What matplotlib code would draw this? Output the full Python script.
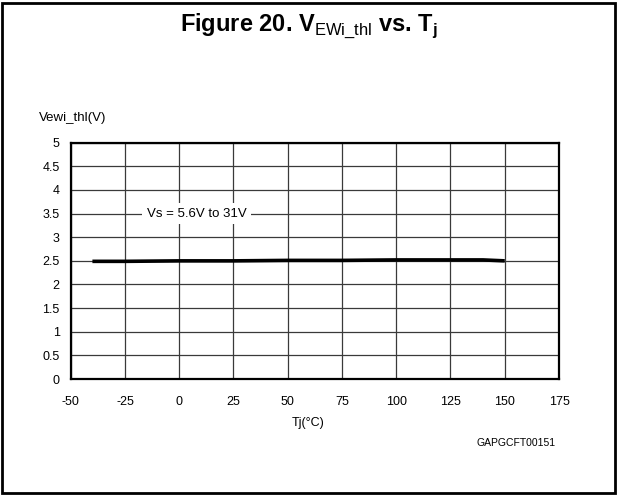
import matplotlib.pyplot as plt
from matplotlib.patches import Rectangle

plt.rcParams['font.family'] = ['Liberation Sans', 'DejaVu Sans']
plt.rcParams['mathtext.fontset'] = 'custom'
plt.rcParams['mathtext.rm'] = 'Liberation Sans'
plt.rcParams['mathtext.bf'] = 'Liberation Sans:bold'
plt.rcParams['axes.unicode_minus'] = False

# curve
tj = [-40, -25, 0, 25, 50, 75, 100, 125, 140, 150]
vewi_thl = [2.49, 2.49, 2.50, 2.50, 2.51, 2.51, 2.52, 2.52, 2.52, 2.50]

x_ticks = [-50, -25, 0, 25, 50, 75, 100, 125, 150, 175]
y_ticks = [0, 0.5, 1, 1.5, 2, 2.5, 3, 3.5, 4, 4.5, 5]
y_ticklabels = ['0', '0.5', '1', '1.5', '2', '2.5', '3', '3.5', '4', '4.5', '5']

fig = plt.figure(figsize=(6.17, 4.95), dpi=100)

# outer frame round the whole figure
fig.patches.append(Rectangle((0.004, 0.004), 0.992, 0.99, transform=fig.transFigure,
                             fill=False, lw=2.0, ec='black'))

title = r'Figure 20. V$_{\mathrm{EWi\_thl}}$ vs. T$_{\mathbf{j}}$'
fig.text(0.5, 0.948, title, ha='center', va='center', fontsize=17, fontweight='bold')

ax = fig.add_axes([0.1146, 0.2343, 0.7914, 0.4774])
ax.plot(tj, vewi_thl, color='black', lw=2.6, solid_capstyle='butt', zorder=3)

ax.set_xlim(-50, 175)
ax.set_ylim(0, 5)
ax.set_xticks(x_ticks)
ax.set_yticks(y_ticks)
ax.set_yticklabels(y_ticklabels)
ax.tick_params(length=0, labelsize=9)
ax.tick_params(axis='x', pad=12)
ax.tick_params(axis='y', pad=8)
ax.grid(True, color='#3a3a3a', lw=0.9)
ax.set_axisbelow(True)
for s in ax.spines.values():
    s.set_linewidth(1.6)
    s.set_color('black')

ax.text(8, 3.5, 'Vs = 5.6V to 31V', ha='center', va='center', fontsize=9.5,
        bbox=dict(fc='white', ec='none', pad=3.5))

fig.text(0.063, 0.762, 'Vewi_thl(V)', ha='left', va='center', fontsize=9.5)
fig.text(0.5, 0.145, 'Tj(°C)', ha='center', va='center', fontsize=9)
fig.text(0.9, 0.105, 'GAPGCFT00151', ha='right', va='center', fontsize=7.5)

fig.savefig('out.png', dpi=100)
